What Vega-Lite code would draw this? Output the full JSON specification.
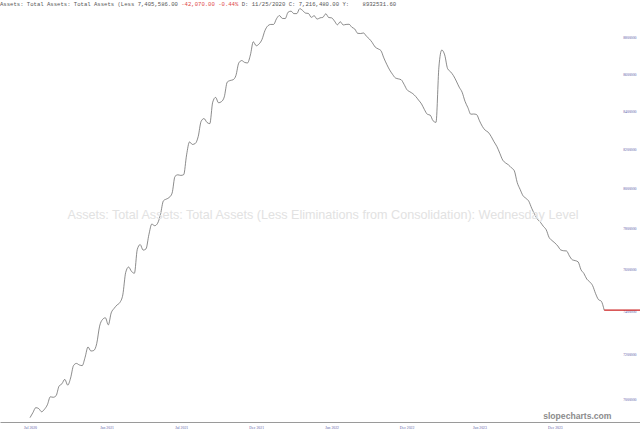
{
  "$schema": "https://vega.github.io/schema/vega-lite/v6.json",
  "width": 640,
  "height": 422,
  "padding": {"left": 0, "top": 0, "right": 0, "bottom": 12},
  "autosize": {"type": "none"},
  "background": "white",
  "view": {"stroke": null},
  "config": {"font": "Liberation Sans"},
  "title": {
    "text": "Assets: Total Assets: Total Assets (Less 7,405,586.00\u00a0\u00a0\u00a0\u00a0\u00a0\u00a0\u00a0\u00a0\u00a0\u00a0\u00a0\u00a0\u00a0\u00a0\u00a0\u00a0\u00a0\u00a0\u00a0D: 11/25/2020 C: 7,216,480.00 Y:\u00a0\u00a0\u00a0\u00a08932531.60",
    "subtitle": "\u200b\u00a0\u00a0\u00a0\u00a0\u00a0\u00a0\u00a0\u00a0\u00a0\u00a0\u00a0\u00a0\u00a0\u00a0\u00a0\u00a0\u00a0\u00a0\u00a0\u00a0\u00a0\u00a0\u00a0\u00a0\u00a0\u00a0\u00a0\u00a0\u00a0\u00a0\u00a0\u00a0\u00a0\u00a0\u00a0\u00a0\u00a0\u00a0\u00a0\u00a0\u00a0\u00a0\u00a0\u00a0\u00a0\u00a0\u00a0\u00a0\u00a0\u00a0\u00a0\u00a0\u00a0\u00a0-42,070.00 -0.44%",
    "anchor": "start",
    "font": "Liberation Mono",
    "fontSize": 5.6,
    "fontWeight": "normal",
    "color": "#555555",
    "subtitleFont": "Liberation Mono",
    "subtitleFontSize": 5.6,
    "subtitleColor": "#e04848",
    "subtitlePadding": -5.6,
    "offset": -8
  },
  "layer": [
    {
      "data": {
        "values": [
          {"d": "2020-07-01", "v": 6918000},
          {"d": "2020-07-08", "v": 6940000},
          {"d": "2020-07-15", "v": 6962000},
          {"d": "2020-07-22", "v": 6958000},
          {"d": "2020-07-29", "v": 6944000},
          {"d": "2020-08-05", "v": 6955000},
          {"d": "2020-08-12", "v": 6975000},
          {"d": "2020-08-19", "v": 7010000},
          {"d": "2020-08-26", "v": 7008000},
          {"d": "2020-09-02", "v": 7015000},
          {"d": "2020-09-09", "v": 7057000},
          {"d": "2020-09-16", "v": 7068000},
          {"d": "2020-09-23", "v": 7088000},
          {"d": "2020-09-30", "v": 7062000},
          {"d": "2020-10-07", "v": 7094000},
          {"d": "2020-10-14", "v": 7150000},
          {"d": "2020-10-21", "v": 7160000},
          {"d": "2020-10-28", "v": 7153000},
          {"d": "2020-11-04", "v": 7150000},
          {"d": "2020-11-11", "v": 7188000},
          {"d": "2020-11-18", "v": 7235000},
          {"d": "2020-11-25", "v": 7216480},
          {"d": "2020-12-02", "v": 7219000},
          {"d": "2020-12-09", "v": 7250000},
          {"d": "2020-12-16", "v": 7331000},
          {"d": "2020-12-23", "v": 7362000},
          {"d": "2020-12-30", "v": 7370000},
          {"d": "2021-01-06", "v": 7337000},
          {"d": "2021-01-13", "v": 7393000},
          {"d": "2021-01-20", "v": 7414000},
          {"d": "2021-01-27", "v": 7430000},
          {"d": "2021-02-03", "v": 7442000},
          {"d": "2021-02-10", "v": 7478000},
          {"d": "2021-02-17", "v": 7585000},
          {"d": "2021-02-24", "v": 7611000},
          {"d": "2021-03-03", "v": 7590000},
          {"d": "2021-03-10", "v": 7581000},
          {"d": "2021-03-17", "v": 7697000},
          {"d": "2021-03-24", "v": 7720000},
          {"d": "2021-03-31", "v": 7693000},
          {"d": "2021-04-07", "v": 7699000},
          {"d": "2021-04-14", "v": 7769000},
          {"d": "2021-04-21", "v": 7821000},
          {"d": "2021-04-28", "v": 7813000},
          {"d": "2021-05-05", "v": 7825000},
          {"d": "2021-05-12", "v": 7870000},
          {"d": "2021-05-19", "v": 7937000},
          {"d": "2021-05-26", "v": 7946000},
          {"d": "2021-06-02", "v": 7954000},
          {"d": "2021-06-09", "v": 7976000},
          {"d": "2021-06-16", "v": 8061000},
          {"d": "2021-06-23", "v": 8069000},
          {"d": "2021-06-30", "v": 8066000},
          {"d": "2021-07-07", "v": 8070000},
          {"d": "2021-07-14", "v": 8172000},
          {"d": "2021-07-21", "v": 8239000},
          {"d": "2021-07-28", "v": 8226000},
          {"d": "2021-08-04", "v": 8231000},
          {"d": "2021-08-11", "v": 8267000},
          {"d": "2021-08-18", "v": 8347000},
          {"d": "2021-08-25", "v": 8362000},
          {"d": "2021-09-01", "v": 8342000},
          {"d": "2021-09-08", "v": 8335000},
          {"d": "2021-09-15", "v": 8449000},
          {"d": "2021-09-22", "v": 8475000},
          {"d": "2021-09-29", "v": 8446000},
          {"d": "2021-10-06", "v": 8452000},
          {"d": "2021-10-13", "v": 8478000},
          {"d": "2021-10-20", "v": 8557000},
          {"d": "2021-10-27", "v": 8566000},
          {"d": "2021-11-03", "v": 8570000},
          {"d": "2021-11-10", "v": 8593000},
          {"d": "2021-11-17", "v": 8662000},
          {"d": "2021-11-24", "v": 8675000},
          {"d": "2021-12-01", "v": 8665000},
          {"d": "2021-12-08", "v": 8662000},
          {"d": "2021-12-15", "v": 8706000},
          {"d": "2021-12-22", "v": 8779000},
          {"d": "2021-12-29", "v": 8757000},
          {"d": "2022-01-05", "v": 8767000},
          {"d": "2022-01-12", "v": 8792000},
          {"d": "2022-01-19", "v": 8841000},
          {"d": "2022-01-26", "v": 8868000},
          {"d": "2022-02-02", "v": 8876000},
          {"d": "2022-02-09", "v": 8876000},
          {"d": "2022-02-16", "v": 8908000},
          {"d": "2022-02-23", "v": 8926000},
          {"d": "2022-03-02", "v": 8910000},
          {"d": "2022-03-09", "v": 8909000},
          {"d": "2022-03-16", "v": 8945000},
          {"d": "2022-03-23", "v": 8951000},
          {"d": "2022-03-30", "v": 8937000},
          {"d": "2022-04-06", "v": 8937000},
          {"d": "2022-04-13", "v": 8965000},
          {"d": "2022-04-20", "v": 8955000},
          {"d": "2022-04-27", "v": 8940000},
          {"d": "2022-05-04", "v": 8938000},
          {"d": "2022-05-11", "v": 8916000},
          {"d": "2022-05-18", "v": 8925000},
          {"d": "2022-05-25", "v": 8906000},
          {"d": "2022-06-01", "v": 8913000},
          {"d": "2022-06-08", "v": 8916000},
          {"d": "2022-06-15", "v": 8936000},
          {"d": "2022-06-22", "v": 8915000},
          {"d": "2022-06-29", "v": 8913000},
          {"d": "2022-07-06", "v": 8895000},
          {"d": "2022-07-13", "v": 8874000},
          {"d": "2022-07-20", "v": 8891000},
          {"d": "2022-07-27", "v": 8873000},
          {"d": "2022-08-03", "v": 8876000},
          {"d": "2022-08-10", "v": 8877000},
          {"d": "2022-08-17", "v": 8860000},
          {"d": "2022-08-24", "v": 8850000},
          {"d": "2022-08-31", "v": 8826000},
          {"d": "2022-09-07", "v": 8825000},
          {"d": "2022-09-14", "v": 8828000},
          {"d": "2022-09-21", "v": 8810000},
          {"d": "2022-09-28", "v": 8795000},
          {"d": "2022-10-05", "v": 8775000},
          {"d": "2022-10-12", "v": 8750000},
          {"d": "2022-10-19", "v": 8740000},
          {"d": "2022-10-26", "v": 8730000},
          {"d": "2022-11-02", "v": 8690000},
          {"d": "2022-11-09", "v": 8655000},
          {"d": "2022-11-16", "v": 8624000},
          {"d": "2022-11-23", "v": 8600000},
          {"d": "2022-11-30", "v": 8580000},
          {"d": "2022-12-07", "v": 8575000},
          {"d": "2022-12-14", "v": 8570000},
          {"d": "2022-12-21", "v": 8545000},
          {"d": "2022-12-28", "v": 8516000},
          {"d": "2023-01-04", "v": 8505000},
          {"d": "2023-01-11", "v": 8495000},
          {"d": "2023-01-18", "v": 8480000},
          {"d": "2023-01-25", "v": 8460000},
          {"d": "2023-02-01", "v": 8440000},
          {"d": "2023-02-08", "v": 8410000},
          {"d": "2023-02-15", "v": 8385000},
          {"d": "2023-02-22", "v": 8380000},
          {"d": "2023-03-01", "v": 8350000},
          {"d": "2023-03-08", "v": 8342000},
          {"d": "2023-03-15", "v": 8639000},
          {"d": "2023-03-22", "v": 8733000},
          {"d": "2023-03-29", "v": 8706000},
          {"d": "2023-04-05", "v": 8631000},
          {"d": "2023-04-12", "v": 8614000},
          {"d": "2023-04-19", "v": 8593000},
          {"d": "2023-04-26", "v": 8563000},
          {"d": "2023-05-03", "v": 8530000},
          {"d": "2023-05-10", "v": 8503000},
          {"d": "2023-05-17", "v": 8454000},
          {"d": "2023-05-24", "v": 8420000},
          {"d": "2023-05-31", "v": 8385000},
          {"d": "2023-06-07", "v": 8386000},
          {"d": "2023-06-14", "v": 8383000},
          {"d": "2023-06-21", "v": 8350000},
          {"d": "2023-06-28", "v": 8320000},
          {"d": "2023-07-05", "v": 8300000},
          {"d": "2023-07-12", "v": 8290000},
          {"d": "2023-07-19", "v": 8268000},
          {"d": "2023-07-26", "v": 8240000},
          {"d": "2023-08-02", "v": 8215000},
          {"d": "2023-08-09", "v": 8180000},
          {"d": "2023-08-16", "v": 8145000},
          {"d": "2023-08-23", "v": 8130000},
          {"d": "2023-08-30", "v": 8120000},
          {"d": "2023-09-06", "v": 8105000},
          {"d": "2023-09-13", "v": 8090000},
          {"d": "2023-09-20", "v": 8030000},
          {"d": "2023-09-27", "v": 7995000},
          {"d": "2023-10-04", "v": 7963000},
          {"d": "2023-10-11", "v": 7950000},
          {"d": "2023-10-18", "v": 7935000},
          {"d": "2023-10-25", "v": 7900000},
          {"d": "2023-11-01", "v": 7870000},
          {"d": "2023-11-08", "v": 7845000},
          {"d": "2023-11-15", "v": 7830000},
          {"d": "2023-11-22", "v": 7810000},
          {"d": "2023-11-29", "v": 7793000},
          {"d": "2023-12-06", "v": 7755000},
          {"d": "2023-12-13", "v": 7740000},
          {"d": "2023-12-20", "v": 7728000},
          {"d": "2023-12-27", "v": 7713000},
          {"d": "2024-01-03", "v": 7694000},
          {"d": "2024-01-10", "v": 7690000},
          {"d": "2024-01-17", "v": 7689000},
          {"d": "2024-01-24", "v": 7665000},
          {"d": "2024-01-31", "v": 7646000},
          {"d": "2024-02-07", "v": 7642000},
          {"d": "2024-02-14", "v": 7636000},
          {"d": "2024-02-21", "v": 7598000},
          {"d": "2024-02-28", "v": 7580000},
          {"d": "2024-03-06", "v": 7553000},
          {"d": "2024-03-13", "v": 7540000},
          {"d": "2024-03-20", "v": 7522000},
          {"d": "2024-03-27", "v": 7485000},
          {"d": "2024-04-03", "v": 7456000},
          {"d": "2024-04-10", "v": 7447656},
          {"d": "2024-04-17", "v": 7405586}
        ]
      },
      "mark": {"type": "line", "interpolate": "monotone", "color": "#5a5a5a", "strokeWidth": 0.7},
      "encoding": {
        "x": {
          "field": "d",
          "type": "temporal",
          "scale": {
            "type": "utc",
            "domain": [
              {"year": 2020, "month": 4, "date": 19, "hours": 14, "utc": true},
              {"year": 2024, "month": 7, "date": 12, "hours": 10, "utc": true}
            ]
          },
          "axis": {
            "orient": "bottom",
            "title": "slopecharts.com",
            "values": [
              {"year": 2020, "month": 7, "date": 1, "utc": true},
              {"year": 2021, "month": 1, "date": 2, "utc": true},
              {"year": 2021, "month": 7, "date": 1, "utc": true},
              {"year": 2021, "month": 12, "date": 29, "utc": true},
              {"year": 2022, "month": 6, "date": 29, "utc": true},
              {"year": 2022, "month": 12, "date": 27, "utc": true},
              {"year": 2023, "month": 6, "date": 21, "utc": true},
              {"year": 2023, "month": 12, "date": 20, "utc": true}
            ],
            "format": "%b %Y",
            "grid": false,
            "ticks": false,
            "domainColor": "#9a9a9a",
            "domainWidth": 1,
            "labelFont": "Liberation Serif",
            "labelFontSize": 3.8,
            "labelColor": "#6060a8",
            "labelPadding": 3,
            "labelFlush": false,
            "labelOverlap": false,
            "titleFont": "Liberation Sans",
            "titleFontSize": 8.6,
            "titleFontWeight": "bold",
            "titleColor": "#8c8c8c",
            "titleAnchor": "end",
            "titleAlign": "right",
            "titleBaseline": "alphabetic",
            "titleX": 611,
            "titleY": -4
          }
        },
        "y": {
          "field": "v",
          "type": "quantitative",
          "scale": {"type": "log", "domain": [6899000, 9014500], "nice": false},
          "axis": {
            "orient": "right",
            "title": null,
            "values": [7000000, 7200000, 7400000, 7600000, 7800000, 8000000, 8200000, 8400000, 8600000, 8800000],
            "format": "d",
            "grid": false,
            "ticks": false,
            "domain": false,
            "labelAlign": "right",
            "labelBaseline": "middle",
            "labelPadding": -4,
            "labelFont": "Liberation Serif",
            "labelFontSize": 3.8,
            "labelColor": "#6060a8",
            "labelOverlap": false
          }
        }
      }
    },
    {
      "data": {"values": [{"d": "2024-04-17", "v": 7405586}]},
      "mark": {"type": "rule", "color": "#cc2020", "strokeWidth": 1.2},
      "encoding": {
        "x": {"field": "d", "type": "temporal"},
        "x2": {"datum": {"year": 2024, "month": 7, "date": 20, "utc": true}},
        "y": {"field": "v", "type": "quantitative"}
      }
    },
    {
      "data": {"values": [{"t": "Assets: Total Assets: Total Assets (Less Eliminations from Consolidation): Wednesday Level"}]},
      "mark": {"type": "text", "fontSize": 12.6, "color": "#e2e2e2", "dx": 3, "dy": 4},
      "encoding": {"text": {"field": "t", "type": "nominal"}}
    }
  ]
}
